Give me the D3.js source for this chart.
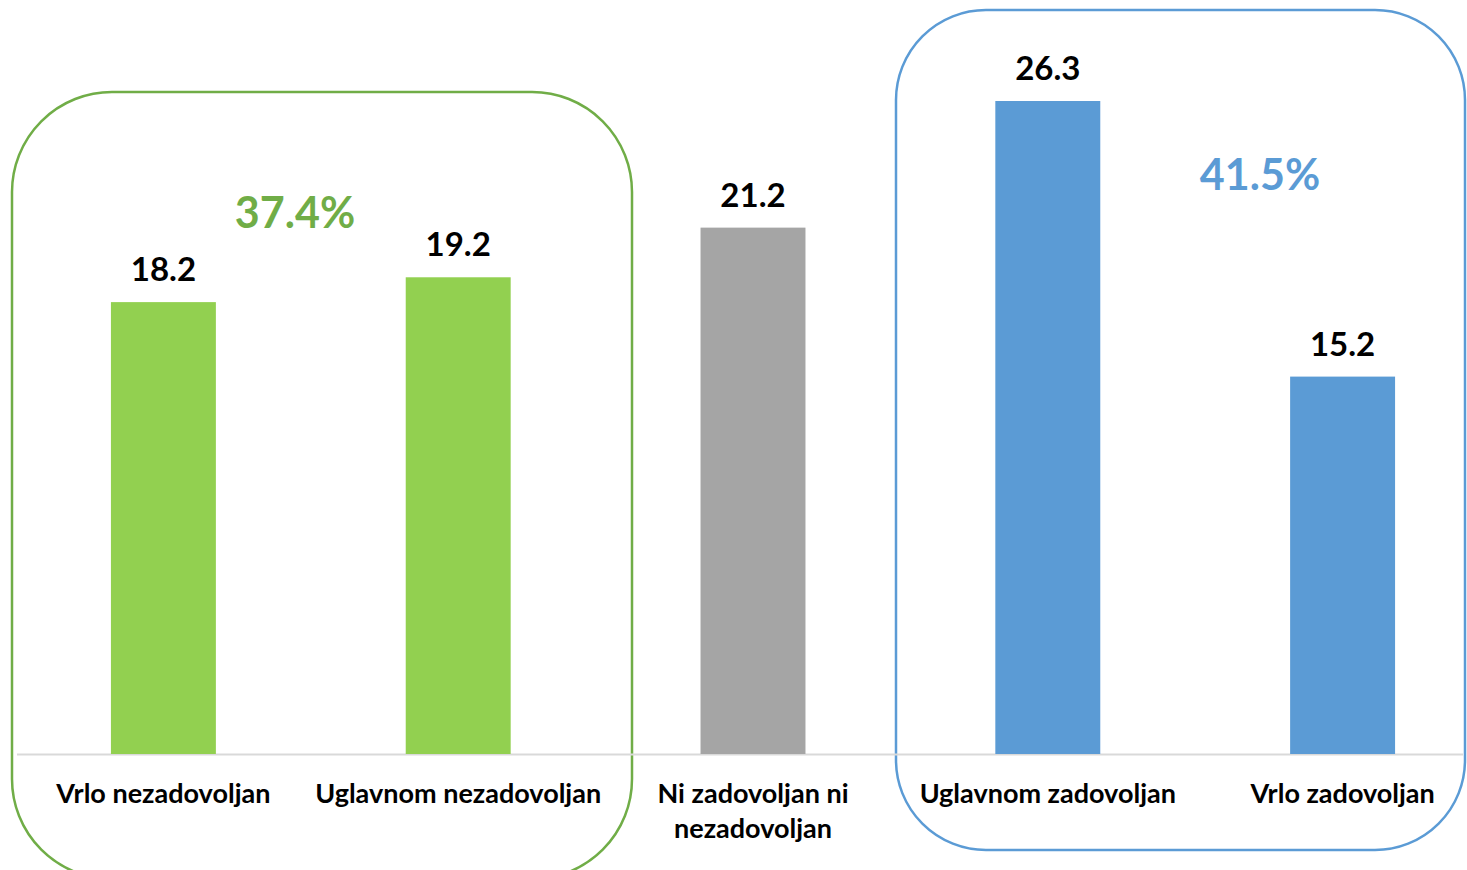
<!DOCTYPE html>
<html>
<head>
<meta charset="utf-8">
<script src="https://cdn.jsdelivr.net/npm/d3@7"></script>
<style>
    body { margin: 0; background: #fff; }
    svg { display: block; font-family: Lato, "Open Sans", sans-serif; }
</style>
</head>
<body>
<div id="chart"></div>
<script>
// data
const categories = ["Vrlo nezadovoljan", "Uglavnom nezadovoljan", "Ni zadovoljan ni nezadovoljan", "Uglavnom zadovoljan", "Vrlo zadovoljan"];
const values = [18.2, 19.2, 21.2, 26.3, 15.2];
const groups = ["neg", "neg", "neutral", "pos", "pos"];
const labelLines = [["Vrlo nezadovoljan"], ["Uglavnom nezadovoljan"], ["Ni zadovoljan ni", "nezadovoljan"], ["Uglavnom zadovoljan"], ["Vrlo zadovoljan"]];

const barColor = { neg: "#92D050", neutral: "#A5A5A5", pos: "#5B9BD5" };
const boxColor = { neg: "#70AD47", pos: "#5B9BD5" };

const width = 1467;
const height = 870;
const baseline = 754;

const svg = d3.select("#chart")
    .append("svg")
    .attr("width", width)
    .attr("height", height);

const x = d3.scaleBand()
    .domain(categories)
    .range([16, 1490])
    .paddingInner(0.644)
    .paddingOuter(0.322);

const y = d3.scaleLinear()
    .domain([0, 26.3])
    .range([baseline, 101]);

// group boxes
const boxes = [
    { group: "neg", x0: 12, y0: 92, x1: 632, y1: 879, r: 100, labelX: 295, labelY: 228 },
    { group: "pos", x0: 896, y0: 10, x1: 1465, y1: 850, r: 90, labelX: 1260, labelY: 190 }
];

svg.append("g")
    .selectAll("rect")
    .data(boxes)
    .join("rect")
    .attr("x", d => d.x0)
    .attr("y", d => d.y0)
    .attr("width", d => d.x1 - d.x0)
    .attr("height", d => d.y1 - d.y0)
    .attr("rx", d => d.r)
    .attr("ry", d => d.r)
    .attr("fill", "none")
    .attr("stroke", d => boxColor[d.group])
    .attr("stroke-width", 2.5);

// axis line
svg.append("line")
    .attr("x1", 17)
    .attr("x2", 1463)
    .attr("y1", baseline + 0.5)
    .attr("y2", baseline + 0.5)
    .attr("stroke", "#D9D9D9")
    .attr("stroke-width", 2);

// bars
const data = categories.map((c, i) => ({ c, v: values[i], g: groups[i], lines: labelLines[i] }));

svg.append("g")
    .selectAll("rect")
    .data(data)
    .join("rect")
    .attr("x", d => x(d.c))
    .attr("width", x.bandwidth())
    .attr("y", d => y(d.v))
    .attr("height", d => y(0) - y(d.v))
    .attr("fill", d => barColor[d.g]);

// value labels
svg.append("g")
    .selectAll("text")
    .data(data)
    .join("text")
    .attr("x", d => x(d.c) + x.bandwidth() / 2)
    .attr("y", d => y(d.v) - 21)
    .attr("text-anchor", "middle")
    .attr("font-size", 33)
    .attr("font-weight", "bold")
    .attr("fill", "#000")
    .text(d => d.v.toFixed(1));

// category labels
const catLabels = svg.append("g")
    .selectAll("text")
    .data(data)
    .join("text")
    .attr("x", d => x(d.c) + x.bandwidth() / 2)
    .attr("y", 803)
    .attr("text-anchor", "middle")
    .attr("font-size", 27)
    .attr("font-weight", "bold")
    .attr("fill", "#000");

catLabels.selectAll("tspan")
    .data(d => d.lines)
    .join("tspan")
    .attr("x", function () { return d3.select(this.parentNode).attr("x"); })
    .attr("dy", (d, i) => i ? 35 : 0)
    .text(d => d);

// group totals
svg.append("g")
    .selectAll("text")
    .data(boxes)
    .join("text")
    .attr("x", d => d.labelX)
    .attr("y", d => d.labelY)
    .attr("text-anchor", "middle")
    .attr("font-size", 43)
    .attr("font-weight", "bold")
    .attr("fill", d => boxColor[d.group])
    .text(d => d3.sum(data.filter(e => e.g === d.group), e => e.v).toFixed(1) + "%");
</script>
</body>
</html>
